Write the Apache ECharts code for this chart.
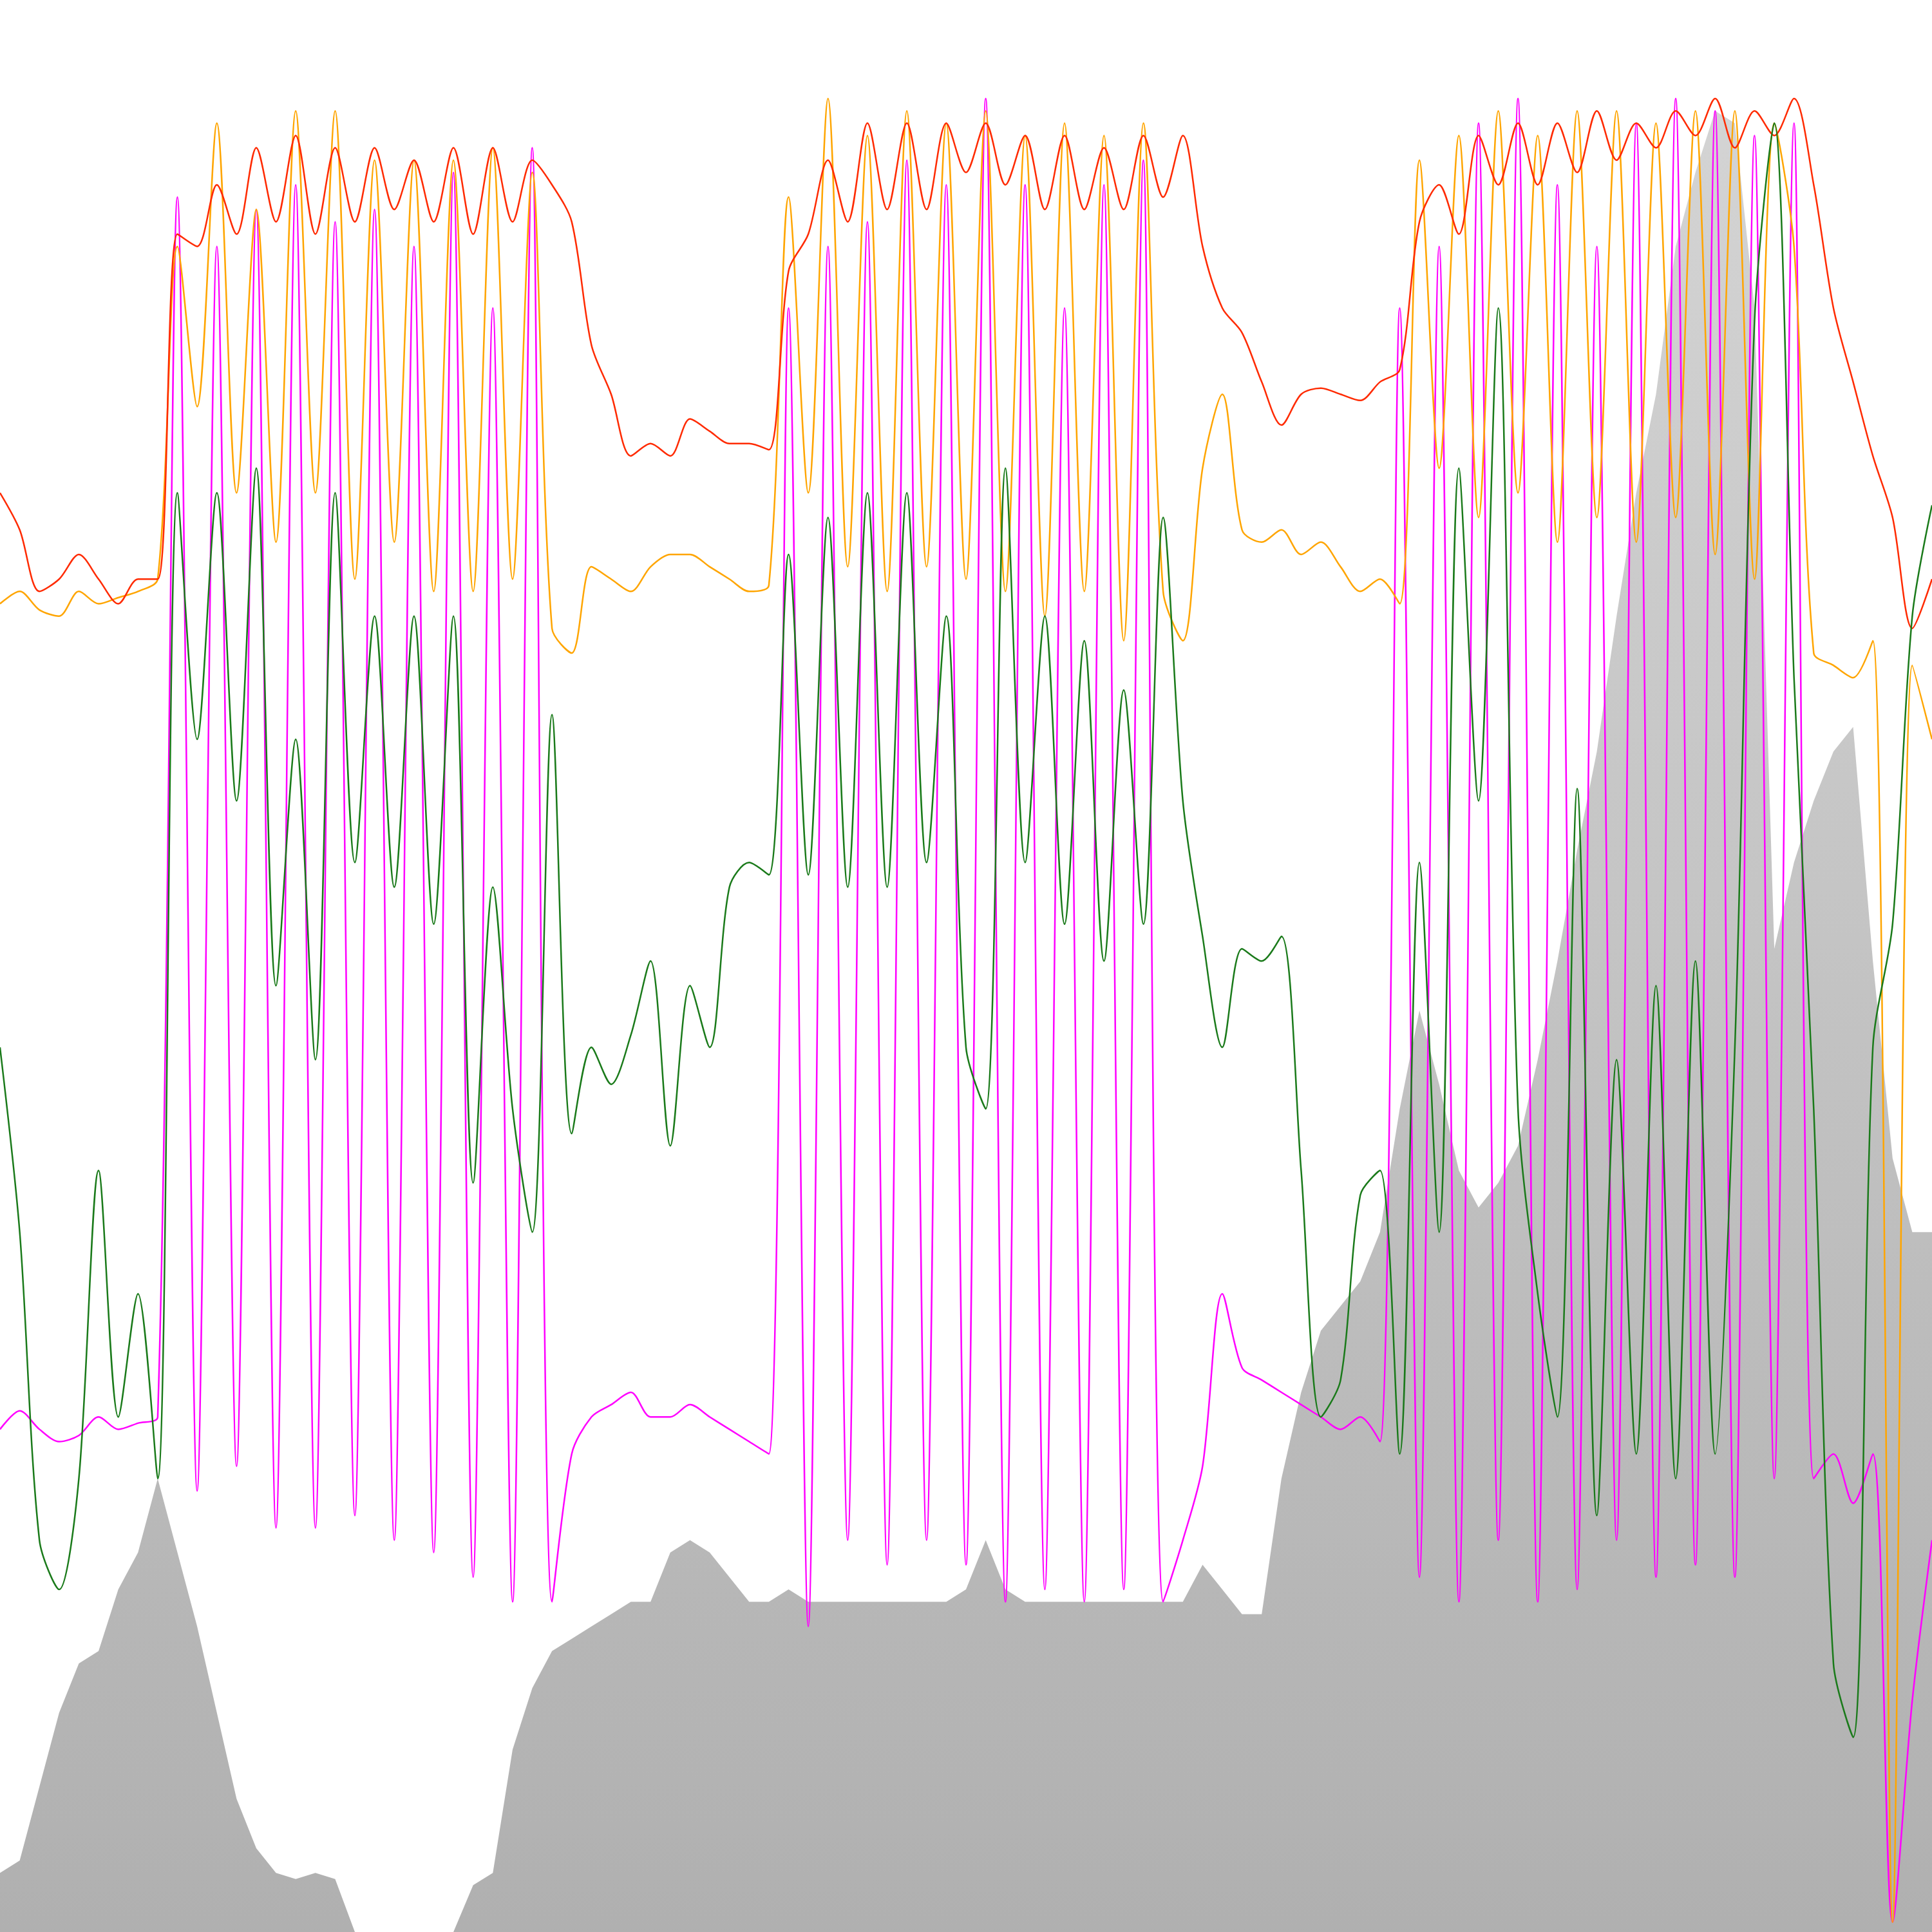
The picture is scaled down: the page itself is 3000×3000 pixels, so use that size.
<!DOCTYPE html>
<html lang="en">
<head>
    <meta charset="UTF-8">
    <title>Chart</title>
    <style>
        html, body { margin: 0; padding: 0; background: #fff; }
        #main { width: 3000px; height: 3000px; }
    </style>
</head>
<body>
<div id="main"></div>
<script src="https://cdn.jsdelivr.net/npm/echarts@6/dist/echarts.min.js"></script>
<script>
  // sample step along x (picture units, 0..1568), values measured from the top
  var step = 16;

  var magenta = [1160, 1145, 1160, 1170, 1165, 1150, 1160, 1155, 1150, 160, 1210, 200, 1190, 170, 1240, 150, 1240, 180, 1230, 170, 1250, 200, 1260, 140, 1280, 250, 1300, 120, 1300, 1180, 1150, 1140, 1130, 1150, 1150, 1140, 1150, 1160, 1170, 1180, 250, 1320, 200, 1250, 180, 1270, 130, 1250, 150, 1270, 80, 1300, 150, 1290, 250, 1300, 150, 1290, 130, 1300, 1250, 1190, 1050, 1110, 1120, 1130, 1140, 1150, 1160, 1150, 1170, 250, 1280, 200, 1300, 100, 1250, 80, 1300, 150, 1290, 200, 1250, 100, 1280, 80, 1270, 90, 1280, 110, 1200, 100, 1200, 1180, 1220, 1180, 1560, 1380, 1250];

  var orange = [490, 480, 495, 500, 480, 490, 485, 480, 470, 200, 330, 100, 400, 170, 440, 90, 400, 90, 470, 130, 440, 130, 480, 130, 480, 120, 470, 140, 510, 530, 460, 470, 480, 460, 450, 450, 460, 470, 480, 475, 160, 400, 80, 460, 110, 480, 90, 460, 100, 470, 90, 480, 110, 500, 100, 480, 110, 520, 100, 480, 520, 380, 320, 430, 440, 430, 450, 440, 460, 480, 470, 490, 130, 380, 110, 420, 90, 400, 110, 440, 90, 420, 90, 440, 100, 420, 90, 450, 90, 470, 100, 200, 530, 540, 550, 520, 1560, 540, 600];

  var red = [400, 430, 480, 470, 450, 470, 490, 470, 470, 190, 200, 150, 190, 120, 180, 110, 190, 120, 180, 120, 170, 130, 180, 120, 190, 120, 180, 130, 150, 180, 280, 320, 370, 360, 370, 340, 350, 360, 360, 365, 220, 190, 130, 180, 100, 170, 100, 170, 100, 140, 100, 150, 110, 170, 110, 170, 120, 170, 110, 160, 110, 200, 250, 270, 310, 345, 320, 315, 320, 325, 310, 300, 180, 150, 190, 110, 150, 100, 150, 100, 140, 90, 130, 100, 120, 90, 110, 80, 120, 90, 110, 80, 150, 250, 310, 370, 420, 510, 470];

  var green = [850, 1000, 1250, 1290, 1200, 950, 1150, 1050, 1200, 400, 600, 400, 650, 380, 800, 600, 860, 400, 700, 500, 720, 500, 750, 500, 960, 720, 900, 1000, 580, 920, 850, 880, 840, 780, 930, 800, 850, 720, 700, 710, 450, 710, 420, 720, 400, 720, 400, 700, 500, 850, 900, 380, 700, 500, 750, 520, 780, 560, 750, 420, 650, 760, 850, 770, 780, 760, 950, 1150, 1120, 970, 950, 1180, 700, 1000, 380, 650, 250, 900, 1050, 1150, 640, 1230, 860, 1180, 800, 1200, 780, 1180, 850, 260, 100, 550, 900, 1350, 1410, 850, 750, 500, 410];

  var grey = [1520, 1510, 1450, 1390, 1350, 1340, 1290, 1260, 1200, 1260, 1320, 1390, 1460, 1500, 1520, 1525, 1520, 1525, 1568, 1568, 1568, 1568, 1568, 1568, 1530, 1520, 1420, 1370, 1340, 1330, 1320, 1310, 1300, 1300, 1260, 1250, 1260, 1280, 1300, 1300, 1290, 1300, 1300, 1300, 1300, 1300, 1300, 1300, 1300, 1290, 1250, 1290, 1300, 1300, 1300, 1300, 1300, 1300, 1300, 1300, 1300, 1270, 1290, 1310, 1310, 1200, 1130, 1080, 1060, 1040, 1000, 900, 820, 880, 950, 980, 960, 930, 860, 780, 690, 610, 500, 400, 320, 200, 140, 90, 100, 250, 770, 700, 650, 610, 590, 780, 940, 1000, 1000];

  function pts(arr) {
    return arr.map(function (v, i) { return [i * step, v]; });
  }

  function lineSeries(name, arr, color) {
    return {
      name: name,
      type: 'line',
      data: pts(arr),
      showSymbol: false,
      smooth: 0.3,
      lineStyle: { color: color, width: 2.5 }
    };
  }

  var myChart = echarts.init(document.getElementById('main'));
  myChart.setOption({
    animation: false,
    backgroundColor: '#fff',
    grid: { left: 0, right: 0, top: 0, bottom: 0 },
    xAxis: { type: 'value', min: 0, max: 1568, show: false },
    yAxis: { type: 'value', min: 0, max: 1568, inverse: true, show: false },
    series: [
      {
        name: 'area',
        type: 'line',
        data: pts(grey),
        showSymbol: false,
        lineStyle: { width: 0 },
        areaStyle: {
          origin: 'end',
          color: new echarts.graphic.LinearGradient(0, 0, 0, 3000, [
            { offset: 0, color: '#c4c4c4' },
            { offset: 0.5, color: '#aaaaaa' },
            { offset: 1, color: '#8e8e8e' }
          ], true)
        }
      },
      lineSeries('magenta', magenta, '#ff00ff'),
      lineSeries('orange', orange, '#ffa500'),
      lineSeries('red', red, '#ff2a00'),
      lineSeries('green', green, '#1a7a1a')
    ]
  });
</script>
</body>
</html>
